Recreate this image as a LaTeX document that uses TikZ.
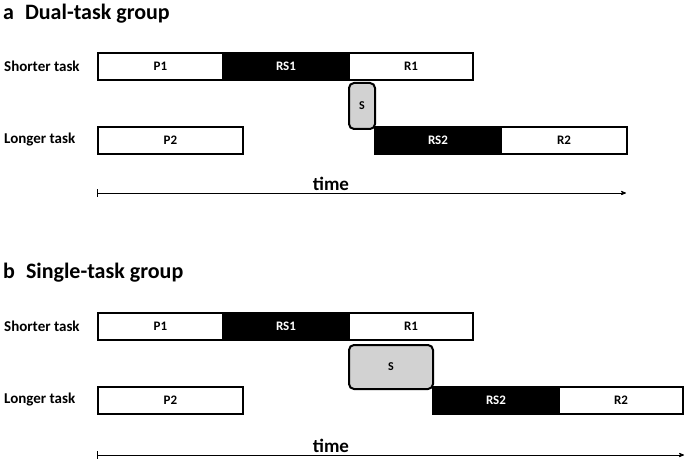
\documentclass[tikz,border=0pt]{standalone}
\usepackage{fontspec}
\setmainfont{Carlito}
\usetikzlibrary{arrows}
\usetikzlibrary{positioning}

\begin{document}
\begin{tikzpicture}[
    x=1pt, y=-1pt,
    phase/.style={draw, line width=2pt, minimum height=27pt, inner sep=0pt, font=\bfseries\fontsize{13}{15}\selectfont, anchor=north west},
    stage/.style={phase, fill=white},
    select/.style={phase, fill=black, text=white},
    switch/.style={draw, line width=2pt, rounded corners=5, fill=gray!35, inner sep=0pt, font=\bfseries\fontsize{12}{14}\selectfont, anchor=north west},
    tasklabel/.style={font=\bfseries\fontsize{15}{17}\selectfont, anchor=west, inner sep=0pt},
    heading/.style={font=\bfseries\fontsize{22}{25}\selectfont, anchor=west, inner sep=0pt},
    axis/.style={line width=0.8pt, |->, >=stealth'}
  ]
  \useasboundingbox (0,0) rectangle (685,462);

  % panel a
  \node[heading] (ha) at (3,14) {a\enspace Dual-task group};
  \node[tasklabel] (sa) at (4,66) {Shorter task};
  \node[stage, minimum width=125pt] (p1a) at (97,52) {P1};
  \node[select, minimum width=126pt] (rs1a) at (222,52) {RS1};
  \node[stage, minimum width=124pt] (r1a) at (348,52) {R1};
  \node[switch, minimum width=26pt, minimum height=46pt] (swa) at (348,82) {S};
  \node[tasklabel] (la) at (4,140) {Longer task};
  \node[stage, minimum width=145pt] (p2a) at (97,126) {P2};
  \node[select, minimum width=126pt] (rs2a) at (374,126) {RS2};
  \node[stage, minimum width=126pt] (r2a) at (500,126) {R2};
  \coordinate (t0a) at (97,193);
  \coordinate (t1a) at (626,193);
  \draw[axis] (t0a) -- (t1a);
  \node[font=\bfseries\fontsize{19}{21}\selectfont] (ta) at (331,184) {time};

  % panel b
  \node[heading] (hb) at (3,273) {b\enspace Single-task group};
  \node[tasklabel] (sb) at (4,326) {Shorter task};
  \node[stage, minimum width=125pt] (p1b) at (97,312) {P1};
  \node[select, minimum width=126pt] (rs1b) at (222,312) {RS1};
  \node[stage, minimum width=124pt] (r1b) at (348,312) {R1};
  \node[switch, minimum width=84pt, minimum height=44pt] (swb) at (348,344) {S};
  \node[tasklabel] (lb) at (4,400) {Longer task};
  \node[stage, minimum width=145pt] (p2b) at (97,386) {P2};
  \node[select, minimum width=126pt] (rs2b) at (432,386) {RS2};
  \node[stage, minimum width=124pt] (r2b) at (558,386) {R2};
  \coordinate (t0b) at (97,455);
  \coordinate (t1b) at (684,455);
  \draw[axis] (t0b) -- (t1b);
  \node[font=\bfseries\fontsize{19}{21}\selectfont] (tb) at (331,446) {time};
\end{tikzpicture}
\end{document}
